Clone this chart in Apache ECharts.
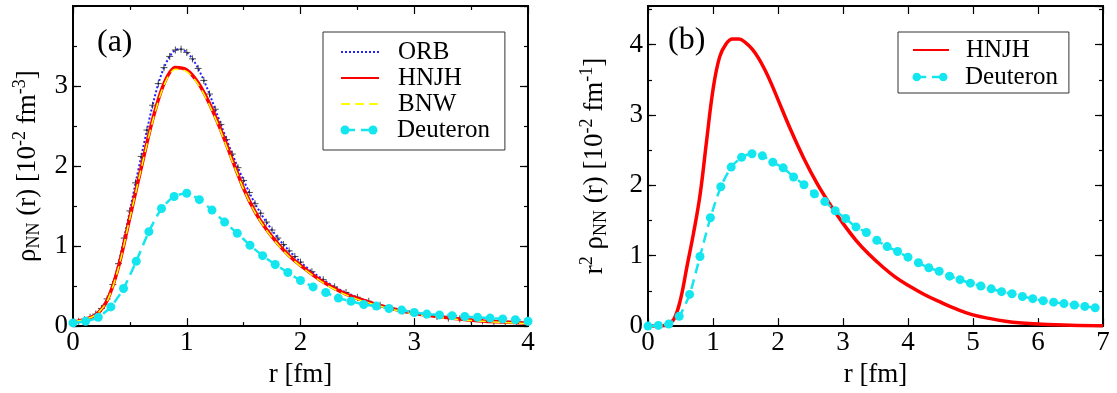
<!DOCTYPE html>
<html>
<head>
<meta charset="utf-8">
<script src="https://cdn.jsdelivr.net/npm/echarts@6/dist/echarts.min.js"></script>
<style>
html,body{margin:0;padding:0;background:#fff;}
#c{width:1117px;height:393px;}
</style>
</head>
<body>
<div id="c"></div>
<script>
// ---- Panel (a): rho_NN(r) ----
const rA = [0,0.1,0.2,0.3,0.4,0.5,0.6,0.7,0.8,0.9,1.0,1.1,1.2,1.3,1.4,1.5,1.6,1.7,1.8,1.9,2.0,2.2,2.4,2.6,2.8,3.0,3.2,3.4,3.6,3.8,4.0];
const hnjhA = [0.05,0.08,0.14,0.32,0.74,1.36,1.98,2.58,3.03,3.23,3.20,3.04,2.78,2.45,2.08,1.72,1.43,1.21,1.03,0.88,0.76,0.55,0.40,0.30,0.22,0.16,0.12,0.09,0.065,0.05,0.035];
const bnwA  = [0.05,0.08,0.14,0.31,0.73,1.35,1.97,2.56,3.01,3.21,3.18,3.02,2.76,2.43,2.06,1.71,1.42,1.20,1.02,0.87,0.75,0.54,0.39,0.29,0.21,0.15,0.11,0.08,0.06,0.045,0.03];
const rOrb = [0,0.05,0.1,0.15,0.2,0.25,0.3,0.35,0.4,0.45,0.5,0.55,0.6,0.65,0.7,0.75,0.8,0.85,0.9,0.95,1.0,1.05,1.1,1.15,1.2,1.25,1.3,1.35,1.4,1.45,1.5,1.55,1.6,1.65,1.7,1.75,1.8,1.85,1.9,1.95,2.0,2.1,2.2,2.3,2.4,2.5,2.6,2.7,2.8,2.9,3.0,3.1,3.2,3.3,3.4,3.5,3.6,3.7,3.8,3.9,4.0];
const orbA = [0.05,0.06,0.08,0.11,0.15,0.22,0.34,0.52,0.78,1.10,1.44,1.79,2.12,2.45,2.76,3.03,3.23,3.37,3.45,3.46,3.42,3.34,3.22,3.07,2.90,2.71,2.52,2.33,2.15,1.98,1.82,1.67,1.53,1.41,1.30,1.20,1.10,1.02,0.94,0.87,0.80,0.68,0.58,0.49,0.42,0.36,0.31,0.26,0.22,0.19,0.16,0.14,0.12,0.10,0.09,0.075,0.065,0.055,0.05,0.04,0.035];
const rDeutA = [0,0.111,0.222,0.333,0.444,0.556,0.667,0.778,0.889,1.0,1.111,1.222,1.333,1.444,1.556,1.667,1.778,1.889,2.0,2.111,2.222,2.333,2.444,2.556,2.667,2.778,2.889,3.0,3.111,3.222,3.333,3.444,3.556,3.667,3.778,3.889,4.0];
const deutA = [0.04,0.06,0.11,0.24,0.47,0.81,1.18,1.47,1.62,1.66,1.58,1.45,1.30,1.16,1.01,0.88,0.77,0.67,0.57,0.49,0.42,0.35,0.31,0.27,0.25,0.22,0.20,0.17,0.15,0.14,0.13,0.12,0.11,0.10,0.09,0.08,0.06];

// ---- Panel (b): r^2 rho_NN(r) ----
const rB = [0,0.1,0.2,0.3,0.4,0.5,0.6,0.7,0.8,0.9,1.0,1.1,1.2,1.3,1.4,1.5,1.6,1.7,1.8,1.9,2.0,2.2,2.4,2.6,2.8,3.0,3.2,3.4,3.6,3.8,4.0,4.25,4.5,4.75,5.0,5.25,5.5,5.75,6.0,6.5,7.0];
const hnjhB = [0,0,0.003,0.02,0.1,0.38,0.85,1.32,1.86,2.62,3.36,3.82,4.01,4.08,4.08,4.03,3.94,3.81,3.64,3.44,3.22,2.78,2.38,2.03,1.73,1.46,1.22,1.02,0.85,0.70,0.58,0.45,0.34,0.24,0.16,0.11,0.07,0.045,0.03,0.012,0.005];
const rDeutB = [0,0.16,0.32,0.48,0.64,0.8,0.96,1.12,1.28,1.44,1.6,1.76,1.92,2.08,2.24,2.4,2.56,2.72,2.88,3.04,3.2,3.36,3.52,3.68,3.84,4.0,4.16,4.32,4.48,4.64,4.8,4.96,5.12,5.28,5.44,5.6,5.76,5.92,6.08,6.24,6.4,6.56,6.72,6.88];
const deutB = [0,0.01,0.03,0.14,0.45,0.99,1.54,1.98,2.26,2.40,2.45,2.42,2.33,2.25,2.12,2.01,1.88,1.77,1.64,1.53,1.41,1.33,1.22,1.13,1.06,0.98,0.90,0.83,0.78,0.71,0.66,0.61,0.57,0.53,0.49,0.46,0.42,0.39,0.36,0.34,0.32,0.30,0.28,0.26];

const xTicksA = [0,1,2,3,4];
const xTicksB = [0,1,2,3,4,5,6,7];

const FONT = 'Liberation Serif';
const zip = (xs, ys) => xs.map((x, i) => [x, ys[i]]);
const CYAN = '#14e6ef';
const NONE = 'rgba(0,0,0,0)';
// legend icon for the Deuteron entries: dashes with a dot at each end
const DEUT_SVG = "<svg xmlns='http://www.w3.org/2000/svg' width='38' height='10' viewBox='0 0 38 10'>" +
  "<circle cx='5' cy='5' r='4.5' fill='#14e6ef'/><circle cx='33' cy='5' r='4.5' fill='#14e6ef'/>" +
  "<line x1='5' y1='5' x2='33' y2='5' stroke='#14e6ef' stroke-width='2.5' stroke-dasharray='10 6'/></svg>";
const DEUT_ICON = 'image://data:image/svg+xml;charset=utf-8,' + encodeURIComponent(DEUT_SVG);

const rich = {
  n: {fontFamily: FONT, fontSize: 27, color: '#000'},
  sub: {fontFamily: FONT, fontSize: 18, color: '#000', padding: [12, 0, 0, 0]},
  sup: {fontFamily: FONT, fontSize: 18, color: '#000', padding: [0, 0, 16, 0]}
};

function xAx(grid, min, max, top, minor, name) {
  return {
    gridIndex: grid, type: 'value', min: min, max: max, interval: 1,
    position: top ? 'top' : 'bottom',
    axisLine: {show: true, onZero: false, lineStyle: {color: '#000', width: 2}},
    axisTick: {show: true, inside: true, length: 8, lineStyle: {color: '#000', width: 1.2}},
    minorTick: {show: minor, splitNumber: 2, length: 4, lineStyle: {color: '#000', width: 1.2}},
    splitLine: {show: false}, minorSplitLine: {show: false},
    axisLabel: {show: !top, color: '#000', fontFamily: FONT, fontSize: 27, margin: 3},
    name: top ? '' : name, nameLocation: 'middle', nameGap: 27,
    nameTextStyle: {color: '#000', fontFamily: FONT, fontSize: 27}
  };
}
function yAx(grid, max, right, interval, tickLen, labels, name, nameGap) {
  return {
    gridIndex: grid, type: 'value', min: 0, max: max, interval: interval,
    position: right ? 'right' : 'left',
    axisLine: {show: true, onZero: false, lineStyle: {color: '#000', width: 2}},
    axisTick: {show: true, inside: true, length: tickLen, lineStyle: {color: '#000', width: 1.2}},
    splitLine: {show: false},
    axisLabel: {show: labels, color: '#000', fontFamily: FONT, fontSize: 27, margin: 5, showMaxLabel: false},
    name: name || '', nameLocation: 'middle', nameGap: nameGap || 0,
    nameTextStyle: {color: '#000', fontFamily: FONT, fontSize: 27, rich: rich}
  };
}

const legendText = (pad) => ({fontFamily: FONT, fontSize: 25, color: '#000', lineHeight: 26, padding: [0, 0, 0, pad]});

const chart = echarts.init(document.getElementById('c'), null, {renderer: 'canvas'});
const option = {
  backgroundColor: '#fff',
  animation: false,
  grid: [
    {left: 73, top: 6, width: 455, height: 322, show: true, borderColor: '#000', borderWidth: 2, backgroundColor: 'transparent'},
    {left: 648, top: 6, width: 455, height: 322, show: true, borderColor: '#000', borderWidth: 2, backgroundColor: 'transparent'}
  ],
  xAxis: [
    xAx(0, xTicksA[0], xTicksA[xTicksA.length - 1], false, true, 'r [fm]'),
    xAx(0, xTicksA[0], xTicksA[xTicksA.length - 1], true, true, ''),
    xAx(1, xTicksB[0], xTicksB[xTicksB.length - 1], false, false, 'r [fm]'),
    xAx(1, xTicksB[0], xTicksB[xTicksB.length - 1], true, false, '')
  ],
  yAxis: [
    yAx(0, 4, false, 1, 8, true, '{n|ρ}{sub|NN}{n| (r) [10}{sup|-2}{n| fm}{sup|-3}{n|]}', 28),
    yAx(0, 4, false, 0.5, 4, false),
    yAx(0, 4, true, 1, 8, false),
    yAx(0, 4, true, 0.5, 4, false),
    yAx(1, 4.55, false, 1, 8, true, '{n|r}{sup|2}{n| ρ}{sub|NN}{n| (r) [10}{sup|-2}{n| fm}{sup|-1}{n|]}', 36),
    yAx(1, 4.55, false, 0.5, 4, false),
    yAx(1, 4.55, true, 1, 8, false),
    yAx(1, 4.55, true, 0.5, 4, false)
  ],
  legend: [
    { // panel (a) box with the three line entries (room left for the Deuteron row)
      left: 323, top: 32, orient: 'vertical',
      data: ['ORB', 'HNJH', 'BNW'],
      itemWidth: 38, itemHeight: 10, itemGap: 0,
      padding: [7, 43, 33, 17],
      borderColor: '#333', borderWidth: 1, borderRadius: 0, backgroundColor: '#fff',
      selectedMode: false, textStyle: legendText(14), z: 10
    },
    { // panel (a) Deuteron entry
      left: 340, top: 117, orient: 'vertical',
      data: ['Deuteron'], icon: DEUT_ICON,
      itemWidth: 38, itemHeight: 10, padding: 0,
      selectedMode: false, textStyle: legendText(14), z: 11
    },
    { // panel (b) box
      left: 898, top: 32, orient: 'vertical',
      data: ['HNJH'],
      itemWidth: 36, itemHeight: 10, itemGap: 1,
      padding: [5, 39, 30, 14],
      borderColor: '#333', borderWidth: 1, borderRadius: 0, backgroundColor: '#fff',
      selectedMode: false, textStyle: legendText(12), z: 10
    },
    { // panel (b) Deuteron entry
      left: 912, top: 64, orient: 'vertical',
      data: ['Deuteron'], icon: DEUT_ICON,
      itemWidth: 36, itemHeight: 10, padding: 0,
      selectedMode: false, textStyle: legendText(12), z: 11
    }
  ],
  graphic: [
    {type: 'text', left: 97, top: 27, style: {text: '(a)', font: '32px "Liberation Serif"', fill: '#000'}},
    {type: 'text', left: 668, top: 25, style: {text: '(b)', font: '32px "Liberation Serif"', fill: '#000'}}
  ],
  series: [
    {
      name: 'ORB', type: 'line', xAxisIndex: 0, yAxisIndex: 0, smooth: 0.3,
      data: zip(rOrb, orbA), symbol: 'none',
      lineStyle: {color: '#2222ff', width: 2, type: 'dotted'}, itemStyle: {color: NONE}, z: 2
    },
    {
      name: 'ORB_marks', type: 'scatter', xAxisIndex: 0, yAxisIndex: 0,
      data: zip(rOrb, orbA), symbol: 'path://M0,5L10,5M5,0L5,10', symbolSize: 7,
      itemStyle: {color: NONE, borderColor: '#222', borderWidth: 1}, z: 2, silent: true
    },
    {
      name: 'HNJH', type: 'line', xAxisIndex: 0, yAxisIndex: 0, smooth: 0.3,
      data: zip(rA, hnjhA), symbol: 'none',
      lineStyle: {color: '#ff0000', width: 3.5}, itemStyle: {color: NONE}, z: 3
    },
    {
      name: 'BNW', type: 'line', xAxisIndex: 0, yAxisIndex: 0, smooth: 0.3,
      data: zip(rA, bnwA), symbol: 'none',
      lineStyle: {color: '#ffff00', width: 1.5, type: [9, 5]}, itemStyle: {color: NONE}, z: 4
    },
    {
      name: 'Deuteron', type: 'line', xAxisIndex: 0, yAxisIndex: 0, smooth: 0.2,
      data: zip(rDeutA, deutA), symbol: 'circle', symbolSize: 9, showAllSymbol: true,
      lineStyle: {color: CYAN, width: 2.5, type: [10, 6]}, itemStyle: {color: CYAN}, z: 5
    },
    {
      name: 'HNJH', type: 'line', xAxisIndex: 2, yAxisIndex: 4, smooth: 0.4,
      data: zip(rB, hnjhB), symbol: 'none',
      lineStyle: {color: '#ff0000', width: 3.5}, itemStyle: {color: NONE}, z: 3
    },
    {
      name: 'Deuteron', type: 'line', xAxisIndex: 2, yAxisIndex: 4, smooth: 0.2,
      data: zip(rDeutB, deutB), symbol: 'circle', symbolSize: 9, showAllSymbol: true,
      lineStyle: {color: CYAN, width: 2.5, type: [10, 6]}, itemStyle: {color: CYAN}, z: 5
    }
  ]
};
chart.setOption(option);
</script>
</body>
</html>
